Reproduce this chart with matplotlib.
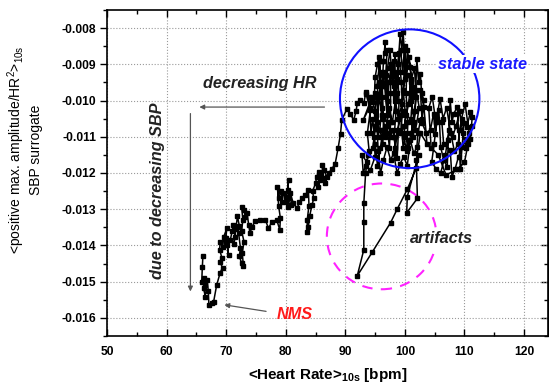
import numpy as np
import matplotlib
matplotlib.use("Agg")
import matplotlib.pyplot as plt
from matplotlib.patches import Ellipse
from matplotlib.ticker import MultipleLocator, FormatStrFormatter

plt.rcParams['font.family'] = ['Liberation Sans', 'DejaVu Sans']

# trajectory, (heart rate [bpm], amplitude [1e-3])
approach = [
    (66.1, -14.28), (66.0, -14.6), (65.9, -15.0), (66.3, -14.9), (66.2, -15.18), (66.5, -15.41),
    (66.4, -15.1), (66.8, -14.95), (67.0, -15.25), (67.1, -15.64), (67.6, -15.6), (67.9, -15.55),
    (68.4, -15.1), (69.0, -14.75), (69.4, -14.61), (68.9, -14.45), (69.3, -14.35), (68.9, -14.12),
    (69.0, -13.9), (69.4, -14.05), (69.6, -13.76), (70.1, -13.53), (69.9, -13.9), (70.0, -13.8),
    (70.4, -14.26), (70.2, -14.0), (70.7, -13.85), (71.0, -13.6), (71.2, -13.44), (71.5, -13.76),
    (71.3, -13.95), (71.6, -13.55), (71.9, -13.2), (72.2, -13.45),
    (71.8, -13.5), (72.1, -13.67), (72.4, -14.08), (72.2, -14.3), (72.6, -14.49), (72.9, -14.58),
    (72.7, -14.2), (73.0, -13.9), (72.6, -13.6), (72.8, -13.3), (72.6, -12.93), (73.0, -13.02),
    (73.2, -13.21), (73.5, -13.11), (73.8, -13.44), (74.0, -13.67), (74.3, -13.5), (74.9, -13.32),
    (75.7, -13.3), (76.6, -13.3), (77.1, -13.53), (77.7, -13.34), (78.5, -13.3), (79.0, -13.57),
    (79.1, -13.25), (78.8, -12.9), (78.6, -12.38), (78.8, -12.7), (79.2, -12.5), (79.4, -12.79),
    (79.6, -12.56), (80.1, -12.66), (80.5, -12.2), (80.3, -12.47), (80.6, -12.7), (80.8, -12.89),
    (80.4, -12.95), (80.0, -12.8), (80.7, -12.55),
    (81.3, -12.84), (81.9, -12.98), (82.3, -12.8), (82.7, -12.7), (83.3, -12.6), (83.8, -12.47),
    (83.9, -12.9), (83.6, -13.3), (83.6, -13.62), (83.8, -13.48), (84.0, -13.2), (84.4, -12.89),
    (84.7, -12.7), (84.5, -12.5), (85.0, -12.29), (85.2, -12.1), (85.5, -11.97), (85.8, -12.2),
    (85.4, -12.4), (85.9, -12.05), (86.3, -12.15),
    (86.1, -11.78), (86.4, -11.92), (86.9, -12.1), (86.6, -12.29), (87.2, -12.0), (87.7, -11.9),
    (88.3, -11.74), (88.8, -11.3), (89.2, -10.91), (89.4, -10.54), (90.3, -10.22), (90.8, -10.36),
    (91.4, -10.54), (91.8, -10.3), (92.0, -10.08), (92.5, -9.99), (93.1, -10.08), (93.4, -9.81),
    (93.9, -9.9), (94.2, -10.27),
]

stable = [
    (93.7, -10.9), (94.0, -11.4), (93.6, -11.69), (92.8, -11.51), (93.0, -12.0), (93.4, -11.8),
    (94.2, -11.92), (95.0, -11.55), (94.8, -11.0), (95.2, -10.4), (94.9, -9.8), (95.0, -9.35),
    (95.4, -9.0), (95.6, -8.8), (95.9, -9.5), (96.1, -10.2), (95.8, -10.8), (96.3, -11.2),
    (96.4, -10.5), (96.2, -9.6), (96.4, -8.9), (96.7, -8.38), (96.7, -8.7), (97.0, -8.61),
    (96.8, -9.3), (97.2, -10.0), (97.0, -10.7), (97.4, -11.3), (97.6, -10.6), (97.6, -9.8),
    (97.6, -8.98), (98.0, -9.2), (98.4, -8.71), (98.1, -9.6), (98.5, -10.3), (98.2, -11.0),
    (98.7, -11.6), (98.9, -10.9), (99.0, -10.0), (98.8, -9.2), (99.2, -8.16), (99.5, -8.6),
    (99.7, -8.11), (100.0, -8.9), (99.7, -9.7), (100.1, -10.4), (99.8, -11.0), (100.3, -11.4),
    (100.5, -10.6), (100.2, -9.8), (100.4, -8.61), (100.9, -9.07), (101.2, -9.9), (101.5, -9.62),
    (101.0, -10.5), (101.4, -11.0), (101.7, -10.3), (102.0, -8.84), (102.3, -9.5), (102.6, -9.26),
    (102.8, -9.8), (103.2, -9.99), (102.9, -10.5), (102.6, -10.54), (102.2, -10.9), (102.0, -11.28),
    (101.5, -11.46), (100.9, -11.09), (100.4, -11.8), (99.8, -11.55), (99.2, -11.74), (98.7, -12.01),
    (98.1, -11.46), (97.6, -11.64), (97.0, -11.28), (96.4, -11.64), (95.9, -12.01), (95.5, -11.4),
    (95.3, -10.6), (95.7, -9.9), (96.0, -9.2), (96.6, -9.6), (97.0, -10.4), (97.3, -9.5),
    (97.8, -9.0), (98.3, -9.9), (98.6, -9.4), (99.0, -8.7), (99.4, -9.5), (99.6, -10.3),
    (99.3, -10.9), (99.9, -10.7), (100.6, -10.1), (101.0, -9.5), (101.3, -10.3), (101.8, -10.8),
    (102.4, -10.2), (101.9, -9.7), (101.1, -10.0), (100.7, -9.3), (100.0, -9.4), (99.5, -10.1),
    (98.9, -10.5), (98.4, -10.0), (97.9, -10.6), (97.3, -10.2), (96.8, -10.9), (96.2, -10.4),
    (95.3, -9.6), (95.8, -8.9), (96.0, -9.9), (96.5, -9.2), (96.9, -9.9), (97.1, -9.1),
    (97.5, -8.6), (97.9, -9.5), (98.2, -8.9), (98.6, -9.8), (98.9, -9.0), (99.3, -8.6),
    (99.6, -9.2), (100.0, -8.5), (100.2, -9.3), (100.7, -8.8), (101.1, -9.4), (101.6, -9.1),
    (101.9, -9.9), (101.5, -10.6), (101.0, -10.9), (100.6, -11.3), (100.2, -10.9), (99.7, -11.3),
    (99.3, -10.4), (98.8, -10.8), (98.4, -11.3), (98.0, -10.8), (97.6, -11.0), (97.2, -10.6),
    (96.7, -11.0), (96.3, -10.8), (95.9, -11.3), (95.4, -11.8), (95.0, -11.2), (94.6, -10.5),
    (94.3, -10.9), (94.1, -10.2), (93.4, -9.76), (94.5, -10.04), (93.0, -10.54), (94.5, -9.9),
    (94.9, -10.3), (95.4, -9.9), (95.6, -11.0), (95.1, -10.7), (94.6, -11.3), (93.8, -11.5),
    (93.4, -12.01),
]

artifacts = [
    (93.1, -12.84), (93.1, -13.34), (93.1, -14.12), (92.0, -14.84), (94.5, -14.19), (97.6, -13.37),
    (98.7, -13.0), (100.4, -12.45), (101.9, -11.87), (102.3, -11.51), (100.4, -12.65), (100.3, -13.1),
    (102.1, -12.7), (101.9, -11.65), (102.6, -10.9),
]

right_cluster = [
    (103.7, -11.19), (103.2, -10.18), (102.6, -9.72), (102.9, -10.63), (103.6, -10.9), (104.3, -10.8),
    (104.8, -10.36), (105.1, -10.91), (105.7, -10.27), (106.0, -11.28), (106.5, -11.64), (107.1, -11.83),
    (107.3, -11.1), (107.6, -9.99), (107.9, -10.6), (108.2, -10.36), (108.8, -10.18), (109.0, -10.82),
    (109.3, -11.88), (109.6, -11.28), (109.9, -10.63), (110.4, -10.73), (111.0, -10.31), (111.3, -10.45),
    (111.0, -11.05), (110.2, -11.05), (109.0, -11.55), (108.4, -11.9), (107.9, -12.1), (107.6, -11.37),
    (106.5, -11.19), (106.2, -10.6), (105.4, -10.5), (104.9, -11.2), (104.5, -11.7), (105.3, -11.9),
    (106.0, -12.0), (106.8, -11.5), (107.4, -10.8), (108.0, -11.0), (108.6, -10.7), (109.2, -10.3),
    (109.7, -10.9), (110.3, -11.3), (110.8, -10.9), (110.1, -10.1), (109.5, -10.5), (108.9, -11.2),
    (108.3, -11.4), (107.7, -10.9), (107.0, -10.2), (106.4, -10.5), (105.9, -9.95), (105.2, -10.6),
    (104.6, -9.9), (104.0, -10.2), (104.4, -11.3), (105.6, -11.5), (106.9, -12.05), (108.9, -11.9),
    (110.0, -11.7), (110.6, -11.2), (111.2, -10.7),
]

track = np.array(approach + stable + artifacts + right_cluster)
hr = track[:, 0]
amp = track[:, 1] / 1000.0

fig = plt.figure(figsize=(5.49, 3.87), dpi=100)
ax = fig.add_axes([0.1949, 0.1318, 0.8031, 0.8424])

ax.plot(hr, amp, color='black', lw=1.1, marker='s', ms=3.1, zorder=3)

ax.set_xlim(50, 124)
ax.set_ylim(-0.0165, -0.0075)
ax.xaxis.set_major_locator(MultipleLocator(10))
ax.xaxis.set_minor_locator(MultipleLocator(5))
ax.yaxis.set_major_locator(MultipleLocator(0.001))
ax.yaxis.set_minor_locator(MultipleLocator(0.0005))
ax.yaxis.set_major_formatter(FormatStrFormatter('%.3f'))
ax.grid(True, which='major', ls=':', color='#9a9a9a', lw=0.8, zorder=0)

ax.tick_params(axis='x', which='both', direction='in', top=True, labelsize=8.7, pad=7)
ax.tick_params(axis='x', which='major', length=5, width=1)
ax.tick_params(axis='x', which='minor', length=3, width=1)
ax.tick_params(axis='y', which='both', direction='out', labelsize=8.7, pad=2.5)
ax.tick_params(axis='y', which='major', length=5, width=1)
ax.tick_params(axis='y', which='minor', length=3, width=1)
for lab in ax.get_xticklabels() + ax.get_yticklabels():
    lab.set_fontweight('bold')
for sp in ax.spines.values():
    sp.set_linewidth(1.2)

sec = ax.secondary_yaxis('right')
sec.yaxis.set_major_locator(MultipleLocator(0.001))
sec.yaxis.set_minor_locator(MultipleLocator(0.0005))
sec.tick_params(which='both', direction='in', labelright=False)
sec.tick_params(which='major', length=5, width=1)
sec.tick_params(which='minor', length=3, width=1)

ax.set_xlabel(r'<Heart Rate>$_{\mathregular{10s}}$ [bpm]', fontsize=11, fontweight='bold', labelpad=6)
fig.text(0.044, 0.612, '<positive max. amplitude/HR$^{\\mathregular{2}}$>$_{\\mathregular{10s}}$\nSBP surrogate',
         rotation=90, ha='center', va='center', multialignment='center', fontsize=10)

# annotations
ax.add_patch(Ellipse((100.8, -0.00995), 23.4, 0.00383, fill=False, ec='#1010ff', lw=1.5, zorder=4))
ax.add_patch(Ellipse((96.1, -0.01375), 18.4, 0.00292, fill=False, ec='#ff22ff', lw=1.5,
                     ls=(0, (5, 4)), zorder=2))

bold_it = dict(fontsize=11.7, fontweight='bold', fontstyle='italic', ha='center', va='center')
ax.text(113.0, -0.0090, 'stable state', color='#1a1aff', zorder=5,
        bbox=dict(fc='white', ec='none', pad=1), **bold_it)
ax.text(75.7, -0.00953, 'decreasing HR', color='#222222', zorder=5, **bold_it)
ax.text(106.1, -0.01381, 'artifacts', color='#222222', zorder=5,
        bbox=dict(fc='white', ec='none', pad=1), **bold_it)
ax.text(81.6, -0.01591, 'NMS', color='#ff1a1a', zorder=5, **bold_it)
ax.text(58.4, -0.01248, 'due to decreasing SBP', color='#222222', rotation=90, zorder=5, **bold_it)

arrow = dict(arrowstyle='-|>', color='#555555', lw=0.9, mutation_scale=7, shrinkA=0, shrinkB=0)
ax.annotate('', xy=(65.5, -0.01018), xytext=(86.5, -0.01018), arrowprops=arrow)
ax.annotate('', xy=(64.0, -0.01527), xytext=(64.0, -0.01036), arrowprops=arrow)
ax.annotate('', xy=(69.7, -0.01564), xytext=(76.7, -0.01582), arrowprops=arrow)

fig.savefig('out.png', dpi=100)
